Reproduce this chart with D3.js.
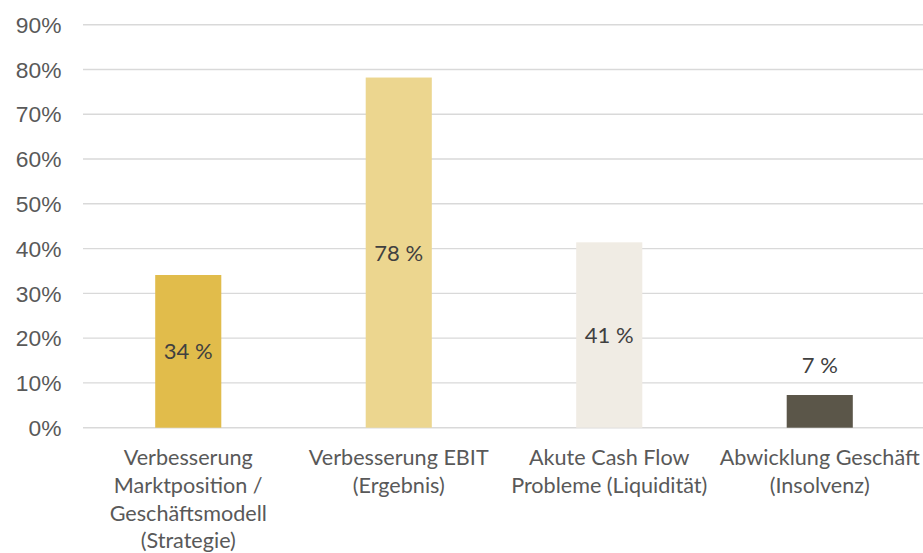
<!DOCTYPE html>
<html>
<head>
<meta charset="utf-8">
<script src="https://cdn.jsdelivr.net/npm/d3@7"></script>
<style>
  body { margin: 0; background: #fff; }
  svg { display: block; }
</style>
</head>
<body>
<svg id="chart"></svg>
<script>
// data
const categories = [
  "Verbesserung\nMarktposition /\nGeschäftsmodell\n(Strategie)",
  "Verbesserung EBIT\n(Ergebnis)",
  "Akute Cash Flow\nProbleme (Liquidität)",
  "Abwicklung Geschäft\n(Insolvenz)"
];
const values = [34.1, 78.2, 41.4, 7.3];
const valueLabels = ["34 %", "78 %", "41 %", "7 %"];
const barColors = ["#E1BC4B", "#ECD68F", "#F0ECE4", "#5B5649"];
const yTicks = [0, 10, 20, 30, 40, 50, 60, 70, 80, 90];

const width = 923, height = 553;
const svg = d3.select("#chart").attr("width", width).attr("height", height);

const xScale = d3.scaleBand()
  .domain(categories)
  .range([83, 925])
  .paddingInner(0.686)
  .paddingOuter(0.343);

const yScale = d3.scaleLinear()
  .domain([0, 90])
  .range([427.7, 24.7]);

// gridlines
svg.append("g")
  .selectAll("line")
  .data(yTicks)
  .join("line")
  .attr("x1", 83)
  .attr("x2", 925)
  .attr("y1", d => yScale(d))
  .attr("y2", d => yScale(d))
  .attr("stroke", "#D9D9D9")
  .attr("stroke-width", 1.4);

// y labels
svg.append("g")
  .selectAll("text")
  .data(yTicks)
  .join("text")
  .attr("x", 61.5)
  .attr("y", d => yScale(d))
  .attr("dy", "0.36em")
  .attr("text-anchor", "end")
  .style("font-family", "'Liberation Sans', Arial, sans-serif")
  .style("font-size", "22.8px")
  .style("fill", "#595959")
  .text(d => d + "%");

// bars
const data = categories.map((c, i) => ({ cat: c, value: values[i], label: valueLabels[i], color: barColors[i] }));

svg.append("g")
  .selectAll("rect")
  .data(data)
  .join("rect")
  .attr("x", d => xScale(d.cat))
  .attr("width", xScale.bandwidth())
  .attr("y", d => yScale(d.value))
  .attr("height", d => yScale(0) - yScale(d.value))
  .attr("fill", d => d.color);

// value labels
svg.append("g")
  .selectAll("text")
  .data(data)
  .join("text")
  .attr("x", d => xScale(d.cat) + xScale.bandwidth() / 2)
  .attr("y", d => {
    const h = yScale(0) - yScale(d.value);
    if (h < 45) return yScale(d.value) - 30;
    return (yScale(d.value) + yScale(0)) / 2;
  })
  .attr("dy", "0.36em")
  .attr("text-anchor", "middle")
  .style("font-family", "Lato, sans-serif")
  .style("font-size", "22px")
  .style("fill", "#404040")
  .text(d => d.label);

// category labels
const catG = svg.append("g")
  .selectAll("text")
  .data(categories)
  .join("text")
  .attr("x", d => xScale(d) + xScale.bandwidth() / 2)
  .attr("y", 465)
  .attr("text-anchor", "middle")
  .style("font-family", "Lato, sans-serif")
  .style("font-size", "21.6px")
  .style("fill", "#595959");

catG.selectAll("tspan")
  .data(d => d.split("\n"))
  .join("tspan")
  .attr("x", function () { return d3.select(this.parentNode).attr("x"); })
  .attr("dy", (d, i) => i === 0 ? 0 : 27.8)
  .text(d => d);
</script>
</body>
</html>
